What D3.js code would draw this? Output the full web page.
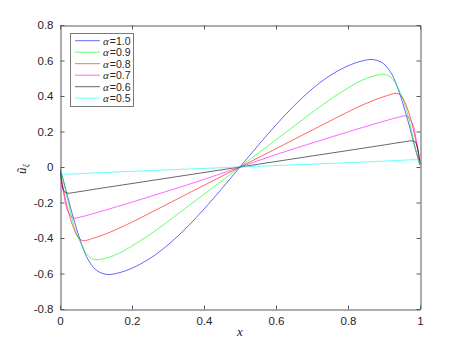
<!DOCTYPE html>
<html><head><meta charset="utf-8">
<script src="https://cdn.jsdelivr.net/npm/d3@7"></script>
<style>body{margin:0;background:#fff;}svg{display:block;}</style>
</head><body>
<svg id="chart" width="464" height="348"></svg>
<script>
// ---- data ----
const xTicks = [0, 0.2, 0.4, 0.6, 0.8, 1];
const xTickLabels = ["0", "0.2", "0.4", "0.6", "0.8", "1"];
const yTicks = [0.8, 0.6, 0.4, 0.2, 0, -0.2, -0.4, -0.6, -0.8];
const yTickLabels = ["0.8", "0.6", "0.4", "0.2", "0", "-0.2", "-0.4", "-0.6", "-0.8"];
const seriesNames = ["1.0", "0.9", "0.8", "0.7", "0.6", "0.5"];
const seriesColors = ["#0000ff", "#00ff00", "#ff0000", "#ff00ff", "#000000", "#00ffff"];

const xA10 = [0, 0.014, 0.028, 0.042, 0.06, 0.079, 0.102, 0.13, 0.16, 0.2, 0.25, 0.3, 0.35, 0.4, 0.45, 0.5,
              0.55, 0.6, 0.65, 0.7, 0.75, 0.8, 0.84, 0.87, 0.898, 0.921, 0.94, 0.958, 0.972, 0.986, 1];
const yA10 = [-0.01, -0.11, -0.22, -0.32, -0.435, -0.525, -0.583, -0.605, -0.598, -0.57, -0.515, -0.439, -0.345, -0.237, -0.121, 0,
              0.121, 0.237, 0.345, 0.439, 0.515, 0.57, 0.598, 0.605, 0.583, 0.525, 0.435, 0.32, 0.22, 0.11, 0.01];

const xA09 = [0, 0.01, 0.022, 0.04, 0.06, 0.078, 0.098, 0.13, 0.16, 0.2, 0.25, 0.3, 0.35, 0.4, 0.45, 0.5,
              0.55, 0.6, 0.65, 0.7, 0.75, 0.8, 0.84, 0.87, 0.902, 0.922, 0.94, 0.96, 0.978, 0.99, 1];
const yA09 = [-0.01, -0.08, -0.19, -0.34, -0.44, -0.50, -0.522, -0.512, -0.49, -0.445, -0.38, -0.307, -0.23, -0.154, -0.077, 0,
              0.077, 0.154, 0.23, 0.307, 0.38, 0.445, 0.49, 0.512, 0.522, 0.50, 0.44, 0.34, 0.19, 0.08, 0.01];

const xA08 = [0, 0.01, 0.023, 0.037, 0.05, 0.064, 0.09, 0.13, 0.18, 0.23, 0.28, 0.33, 0.38, 0.44, 0.5,
              0.56, 0.62, 0.67, 0.72, 0.77, 0.82, 0.87, 0.91, 0.936, 0.95, 0.963, 0.977, 0.99, 1];
const yA08 = [-0.02, -0.13, -0.25, -0.34, -0.395, -0.415, -0.403, -0.375, -0.33, -0.28, -0.228, -0.176, -0.124, -0.062, 0,
              0.062, 0.124, 0.176, 0.228, 0.28, 0.33, 0.375, 0.403, 0.415, 0.395, 0.34, 0.25, 0.13, 0.02];

const xA07 = [0, 0.006, 0.012, 0.02, 0.036, 0.06, 0.1, 0.2, 0.3, 0.4, 0.5,
              0.6, 0.7, 0.8, 0.9, 0.94, 0.964, 0.98, 0.988, 0.994, 1];
const yA07 = [-0.02, -0.10, -0.17, -0.24, -0.287, -0.28, -0.258, -0.198, -0.135, -0.07, 0,
              0.07, 0.135, 0.198, 0.258, 0.28, 0.287, 0.24, 0.17, 0.10, 0.02];

const xA06 = [0, 0.004, 0.008, 0.012, 0.02, 0.05, 0.1, 0.2, 0.3, 0.4, 0.5,
              0.6, 0.7, 0.8, 0.9, 0.95, 0.98, 0.988, 0.992, 0.996, 1];
const yA06 = [-0.02, -0.08, -0.12, -0.138, -0.147, -0.14, -0.124, -0.093, -0.062, -0.031, 0,
              0.031, 0.062, 0.093, 0.124, 0.14, 0.147, 0.138, 0.12, 0.08, 0.02];

const xA05 = [0, 0.002, 0.005, 0.01, 0.1, 0.3, 0.5, 0.7, 0.9, 0.99, 0.995, 0.998, 1];
const yA05 = [-0.02, -0.035, -0.04, -0.041, -0.033, -0.016, 0, 0.016, 0.033, 0.041, 0.04, 0.035, 0.02];

const seriesX = [xA10, xA09, xA08, xA07, xA06, xA05];
const seriesY = [yA10, yA09, yA08, yA07, yA06, yA05];

// ---- layout ----
const L = 60, R = 420, T = 25, B = 309;
const svg = d3.select("#chart");
const x = d3.scaleLinear().domain([0, 1]).range([L, R]);
const y = d3.scaleLinear().domain([-0.8, 0.8]).range([B, T]);
const axisColor = "#5a5a5a";
const textColor = "#262626";
const font = "Liberation Sans, Arial, Helvetica, sans-serif";
const serif = "Liberation Serif, DejaVu Serif, serif";

svg.append("defs").append("clipPath").attr("id", "clip")
  .append("rect").attr("x", L).attr("y", T - 2).attr("width", R - L + 1).attr("height", B - T + 4);

// lines
const line = d3.line().curve(d3.curveCatmullRom.alpha(0.5));
const gLines = svg.append("g").attr("clip-path", "url(#clip)");
seriesY.forEach((ys, i) => {
  const pts = ys.map((v, j) => [x(seriesX[i][j]), y(v)]);
  gLines.append("path").attr("d", line(pts)).attr("fill", "none")
    .attr("stroke", seriesColors[i]).attr("stroke-width", 0.8).attr("stroke-opacity", 0.75);
});

// axes (box style with inward ticks)
const tk = 4;
const axB = d3.axisBottom(x).tickValues(xTicks).tickFormat((d, i) => xTickLabels[i]).tickSizeInner(-tk).tickSizeOuter(0).tickPadding(7);
const axT = d3.axisTop(x).tickValues(xTicks).tickFormat("").tickSizeInner(-tk).tickSizeOuter(0);
const axLft = d3.axisLeft(y).tickValues(yTicks).tickFormat((d, i) => yTickLabels[i]).tickSizeInner(-tk).tickSizeOuter(0).tickPadding(7);
const axRgt = d3.axisRight(y).tickValues(yTicks).tickFormat("").tickSizeInner(-tk).tickSizeOuter(0);

function styleAxis(g) {
  g.attr("font-family", font).attr("font-size", 11.5);
  g.select(".domain").attr("stroke", axisColor).attr("stroke-width", 1);
  g.selectAll(".tick line").attr("stroke", axisColor).attr("stroke-width", 1);
  g.selectAll(".tick text").attr("fill", textColor);
}
svg.append("g").attr("transform", `translate(0,${B + 0.5})`).call(axB).call(styleAxis);
svg.append("g").attr("transform", `translate(0,${T + 0.5})`).call(axT).call(styleAxis);
svg.append("g").attr("transform", `translate(${L + 0.5},0)`).call(axLft).call(styleAxis);
svg.append("g").attr("transform", `translate(${R + 0.5},0)`).call(axRgt).call(styleAxis);

// axis labels
svg.append("text").attr("x", (L + R) / 2).attr("y", 336).attr("text-anchor", "middle")
  .attr("font-family", serif).attr("font-style", "italic")
  .attr("font-size", 13).attr("fill", textColor).text("x");

const yl = svg.append("text").attr("transform", `translate(26,${(T + B) / 2 + 2}) rotate(-90)`)
  .attr("text-anchor", "middle")
  .attr("font-family", serif).attr("font-style", "italic")
  .attr("fill", textColor);
yl.append("tspan").attr("font-size", 13).text("ũ");
yl.append("tspan").attr("font-size", 8).attr("dy", 3).text("ξ");

// legend
const lg = svg.append("g");
const lgX = 70, lgY = 33, lgW = 63, lgH = 73;
lg.append("rect").attr("x", lgX + 0.5).attr("y", lgY + 0.5).attr("width", lgW).attr("height", lgH)
  .attr("fill", "#fff").attr("stroke", "#7a7a7a").attr("stroke-width", 1);
seriesNames.forEach((name, i) => {
  const yy = 40.7 + i * 11.5;
  lg.append("line").attr("x1", 75).attr("x2", 100).attr("y1", yy).attr("y2", yy)
    .attr("stroke", seriesColors[i]).attr("stroke-width", 0.8).attr("stroke-opacity", 0.75);
  const a = lg.append("text").attr("x", 103).attr("y", yy + 3.8).attr("fill", textColor)
    .attr("font-family", serif).attr("font-style", "italic").attr("font-size", 11).text("α");
  const w = a.node().getComputedTextLength();
  lg.append("text").attr("x", 103 + w + 1).attr("y", yy + 3.8).attr("fill", textColor)
    .attr("font-family", font).attr("font-size", 10.5).text("=" + name);
});
</script>
</body></html>
